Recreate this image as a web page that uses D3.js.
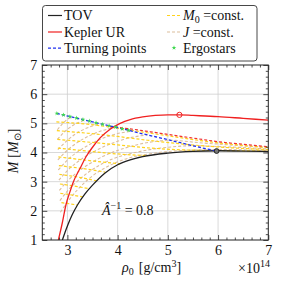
<!DOCTYPE html>
<html><head><meta charset="utf-8">
<script src="https://cdn.jsdelivr.net/npm/d3@7"></script>
<style>
html,body{margin:0;padding:0;background:#fff;}
svg{display:block;font-family:"Liberation Serif","Times New Roman",serif;}
</style></head>
<body><svg id="chart" width="283" height="283"></svg>
<script>
// ---- data (x = rho0 in 1e14 g/cm^3, y = M in Msun) ----
const xTicks = [3, 4, 5, 6, 7];
const yTicks = [1, 2, 3, 4, 5, 6, 7];
const tov = [[2.9,1.0],[2.95,1.25],[3.0,1.48],[3.1,1.88],[3.2,2.2],[3.35,2.58],[3.5,2.88],[3.75,3.3],[4.0,3.58],[4.25,3.75],[4.5,3.86],[5.0,3.98],[5.5,4.04],[6.0,4.06],[6.5,4.05],[7.0,4.03]];
const kepler = [[2.82,1.0],[2.9,1.6],[2.97,2.2],[3.05,2.65],[3.12,3.0],[3.25,3.45],[3.38,3.88],[3.5,4.18],[3.65,4.5],[3.85,4.8],[4.05,5.0],[4.25,5.13],[4.5,5.22],[4.75,5.27],[5.0,5.29],[5.23,5.29],[5.5,5.27],[6.0,5.23],[6.5,5.17],[7.0,5.11]];
const turning = [[2.79,5.34],[3.2,5.17],[3.6,5.01],[4.0,4.85],[4.5,4.64],[5.0,4.44],[5.5,4.23],[5.97,4.05]];
const keplerDashed = [[3.85,4.89],[4.25,4.81],[4.65,4.71],[5.0,4.62],[5.44,4.51],[6.0,4.37],[6.5,4.28],[7.0,4.2]];
const ergoX = [2.79,2.92,3.05,3.18,3.31,3.44,3.57,3.70,3.83,3.96,4.09,4.22];
const ergoM = [5.34,5.29,5.23,5.18,5.13,5.08,5.02,4.97,4.92,4.87,4.81,4.76];
const keplerMax = [5.23, 5.29];
const tovMax = [5.97, 4.05];
const m0Lines = [
  [[2.78,5.05],[3.4,4.97],[3.9,4.86],[4.5,4.7],[5.2,4.52],[6.0,4.33],[7.0,4.17]],
  [[2.79,4.75],[3.4,4.66],[4.0,4.55],[4.6,4.42],[5.3,4.29],[6.0,4.19],[7.0,4.1]],
  [[2.8,4.45],[3.4,4.36],[4.0,4.26],[4.6,4.16],[5.3,4.09],[6.0,4.07],[7.0,4.05]],
  [[2.81,4.15],[3.4,4.05],[4.0,3.95],[4.6,3.89]],
  [[2.82,3.85],[3.4,3.73],[4.05,3.61]],
  [[2.83,3.55],[3.3,3.45],[3.75,3.33]],
  [[2.84,3.25],[3.2,3.16],[3.58,3.03]],
  [[2.85,2.92],[3.2,2.83],[3.43,2.76]],
  [[2.86,2.6],[3.1,2.54],[3.3,2.48]],
  [[2.88,2.28],[3.05,2.24],[3.2,2.2]]
];
const jLines = [
  [[2.8,4.78],[2.9,4.98],[3.0,5.14],[3.1,5.21]],
  [[2.8,4.45],[2.95,4.72],[3.1,4.92],[3.35,5.11]],
  [[2.81,4.1],[3.0,4.42],[3.2,4.68],[3.45,4.88],[3.65,4.99]],
  [[2.81,3.75],[3.0,4.08],[3.25,4.4],[3.55,4.66],[3.95,4.87]],
  [[2.82,3.4],[3.0,3.74],[3.3,4.13],[3.65,4.45],[4.0,4.65],[4.3,4.73]],
  [[2.83,3.05],[3.0,3.38],[3.3,3.8],[3.7,4.18],[4.1,4.44],[4.6,4.61]],
  [[2.84,2.7],[3.0,3.02],[3.3,3.45],[3.7,3.86],[4.2,4.18],[4.7,4.37],[5.05,4.42],[5.6,4.34],[6.3,4.25],[7.0,4.16]],
  [[2.85,2.35],[3.0,2.68],[3.2,3.02],[3.5,3.42],[3.9,3.78],[4.4,4.02],[5.0,4.18],[5.5,4.23],[6.2,4.19],[7.0,4.12]],
  [[2.86,1.95],[3.0,2.3],[3.2,2.72],[3.5,3.2],[3.8,3.52],[4.2,3.8],[4.7,3.97],[5.3,4.07],[6.0,4.1],[7.0,4.07]]
];

// ---- drawing ----
const svg = d3.select("#chart");
const L = 42.3, R = 268.3, T = 65, B = 240;
const x = d3.scaleLinear().domain([2.5, 7]).range([L, R]);
const y = d3.scaleLinear().domain([1, 7]).range([B, T]);
const fs = 14;
const YEL = "#ffd21c", TAN = "#dcbd9c";

// grid
const g = svg.append("g");
g.selectAll("line.gx").data(xTicks.filter(v => v < 7)).enter().append("line")
  .attr("x1", d => x(d)).attr("x2", d => x(d)).attr("y1", T).attr("y2", B)
  .attr("stroke", "#cfcfcf").attr("stroke-width", 0.8);
g.selectAll("line.gy").data(yTicks.filter(v => v > 1 && v < 7)).enter().append("line")
  .attr("y1", d => y(d)).attr("y2", d => y(d)).attr("x1", L).attr("x2", R)
  .attr("stroke", "#cfcfcf").attr("stroke-width", 0.8);

svg.append("clipPath").attr("id", "clip").append("rect")
  .attr("x", L).attr("y", T).attr("width", R - L).attr("height", B - T);
const plot = svg.append("g").attr("clip-path", "url(#clip)");
const line = d3.line().x(d => x(d[0])).y(d => y(d[1])).curve(d3.curveMonotoneX);

jLines.forEach(l => plot.append("path").attr("d", line(l)).attr("fill", "none")
  .attr("stroke", TAN).attr("stroke-width", 1.1).attr("stroke-dasharray", "3,2"));
m0Lines.forEach(l => plot.append("path").attr("d", line(l)).attr("fill", "none")
  .attr("stroke", YEL).attr("stroke-width", 1.2).attr("stroke-dasharray", "3,2"));
plot.append("path").attr("d", line(keplerDashed)).attr("fill", "none")
  .attr("stroke", "#f03030").attr("stroke-width", 1.2).attr("stroke-dasharray", "3,2");
plot.append("path").attr("d", line(tov)).attr("fill", "none").attr("stroke", "#222").attr("stroke-width", 1.3);
plot.append("path").attr("d", line(kepler)).attr("fill", "none").attr("stroke", "#f02020").attr("stroke-width", 1.3);
plot.append("path").attr("d", line(turning)).attr("fill", "none")
  .attr("stroke", "#2030f0").attr("stroke-width", 1.3).attr("stroke-dasharray", "3,2");
const star = d3.symbol().type(d3.symbolStar).size(7);
plot.selectAll("path.ergo").data(ergoX).enter().append("path")
  .attr("d", star).attr("transform", (d, i) => `translate(${x(d)},${y(ergoM[i])})`)
  .attr("fill", "#40d850");
plot.append("circle").attr("cx", x(keplerMax[0])).attr("cy", y(keplerMax[1])).attr("r", 2.6)
  .attr("fill", "none").attr("stroke", "#f02020").attr("stroke-width", 1);
plot.append("circle").attr("cx", x(tovMax[0])).attr("cy", y(tovMax[1])).attr("r", 2.4)
  .attr("fill", "#777").attr("stroke", "#222").attr("stroke-width", 1);

// axes with inward ticks
const minorX = d3.range(0, 28).map(i => 2.5 + i / 6).filter(v => v > 2.5 && v < 7 && Math.abs(v - Math.round(v)) > 1e-6);
const minorY = d3.range(1, 31).map(i => 1 + i * 0.2).filter(v => v < 7 && Math.abs(v - Math.round(v)) > 1e-6);
function styleAxis(sel) {
  sel.select(".domain").remove();
  sel.selectAll("line").attr("stroke", "#222").attr("stroke-width", 0.8);
  sel.selectAll("text").attr("font-size", fs).attr("fill", "#111").attr("font-family", "Liberation Serif, serif");
}
svg.append("g").attr("transform", `translate(0,${B})`)
  .call(d3.axisBottom(x).tickValues(xTicks).tickSize(-5).tickPadding(5).tickFormat(d3.format("d"))).call(styleAxis);
svg.append("g").attr("transform", `translate(0,${B})`)
  .call(d3.axisBottom(x).tickValues(minorX).tickSize(-2.5).tickFormat("")).call(styleAxis);
svg.append("g").attr("transform", `translate(0,${T})`)
  .call(d3.axisTop(x).tickValues(xTicks).tickSize(-5).tickFormat("")).call(styleAxis);
svg.append("g").attr("transform", `translate(0,${T})`)
  .call(d3.axisTop(x).tickValues(minorX).tickSize(-2.5).tickFormat("")).call(styleAxis);
svg.append("g").attr("transform", `translate(${L},0)`)
  .call(d3.axisLeft(y).tickValues(yTicks).tickSize(-5).tickPadding(5).tickFormat(d3.format("d"))).call(styleAxis);
svg.append("g").attr("transform", `translate(${L},0)`)
  .call(d3.axisLeft(y).tickValues(minorY).tickSize(-2.5).tickFormat("")).call(styleAxis);
svg.append("g").attr("transform", `translate(${R},0)`)
  .call(d3.axisRight(y).tickValues(yTicks).tickSize(-5).tickFormat("")).call(styleAxis);
svg.append("g").attr("transform", `translate(${R},0)`)
  .call(d3.axisRight(y).tickValues(minorY).tickSize(-2.5).tickFormat("")).call(styleAxis);
svg.append("rect").attr("x", L).attr("y", T).attr("width", R - L).attr("height", B - T)
  .attr("fill", "none").attr("stroke", "#222").attr("stroke-width", 1);

// axis labels
const xl = svg.append("text").attr("x", 122).attr("y", 272).attr("font-size", fs).attr("fill", "#111");
xl.append("tspan").attr("font-style", "italic").text("ρ");
xl.append("tspan").attr("font-size", 10).attr("dy", 3).text("0");
xl.append("tspan").attr("dy", -3).attr("dx", 5).text("[g/cm");
xl.append("tspan").attr("font-size", 10).attr("dy", -5).text("3");
xl.append("tspan").attr("dy", 5).text("]");
const ex = svg.append("text").attr("x", 270).attr("y", 273).attr("text-anchor", "end").attr("font-size", fs).attr("fill", "#111");
ex.append("tspan").text("×10");
ex.append("tspan").attr("font-size", 10).attr("dy", -6).text("14");
const yl = svg.append("text").attr("transform", "translate(18,151) rotate(-90)").attr("text-anchor", "middle").attr("font-size", fs).attr("fill", "#111");
yl.append("tspan").attr("font-style", "italic").text("M");
yl.append("tspan").attr("dx", 4).text("[");
yl.append("tspan").attr("font-style", "italic").text("M");
yl.append("tspan").attr("font-size", 10).attr("dy", 3).text("⊙");
yl.append("tspan").attr("dy", -3).text("]");

// annotation
const an = svg.append("text").attr("x", 102).attr("y", 215).attr("font-size", fs).attr("fill", "#111");
an.append("tspan").attr("font-style", "italic").text("Â");
an.append("tspan").attr("font-size", 10).attr("dy", -6).text("−1");
an.append("tspan").attr("dy", 6).text(" = 0.8");

// legend
svg.append("rect").attr("x", 42.5).attr("y", 5.5).attr("width", 214.5).attr("height", 55.5).attr("rx", 3)
  .attr("fill", "#fff").attr("stroke", "#333").attr("stroke-width", 0.9);
const rows = [20, 36.5, 52.7];
const leg = [
  {c: 0, r: 0, color: "#222", dash: null, label: [["TOV", null]]},
  {c: 0, r: 1, color: "#f02020", dash: null, label: [["Kepler UR", null]]},
  {c: 0, r: 2, color: "#2030f0", dash: "3,2", label: [["Turning points", null]]},
  {c: 1, r: 0, color: YEL, dash: "3,2", label: [["M", "i"], ["0", "s"], [" =const.", null]]},
  {c: 1, r: 1, color: TAN, dash: "3,2", label: [["J", "i"], [" =const.", null]]}
];
const colX = [48, 167];
leg.forEach(e => {
  svg.append("line").attr("x1", colX[e.c]).attr("x2", colX[e.c] + 14)
    .attr("y1", rows[e.r] - 4.5).attr("y2", rows[e.r] - 4.5)
    .attr("stroke", e.color).attr("stroke-width", 1.2).attr("stroke-dasharray", e.dash);
  const t = svg.append("text").attr("x", colX[e.c] + 16).attr("y", rows[e.r]).attr("font-size", fs).attr("fill", "#111");
  let shifted = false;
  e.label.forEach(p => {
    const ts = t.append("tspan").text(p[0]);
    if (p[1] === "i") ts.attr("font-style", "italic");
    if (p[1] === "s") { ts.attr("font-size", 10).attr("dy", 3); shifted = true; }
    else if (shifted) { ts.attr("dy", -3); shifted = false; }
  });
});
svg.append("path").attr("d", d3.symbol().type(d3.symbolStar).size(7)).attr("transform", `translate(174,${rows[2] - 5})`).attr("fill", "#40d850");
svg.append("text").attr("x", 183).attr("y", rows[2]).attr("font-size", fs).attr("fill", "#111").text("Ergostars");
</script></body></html>
